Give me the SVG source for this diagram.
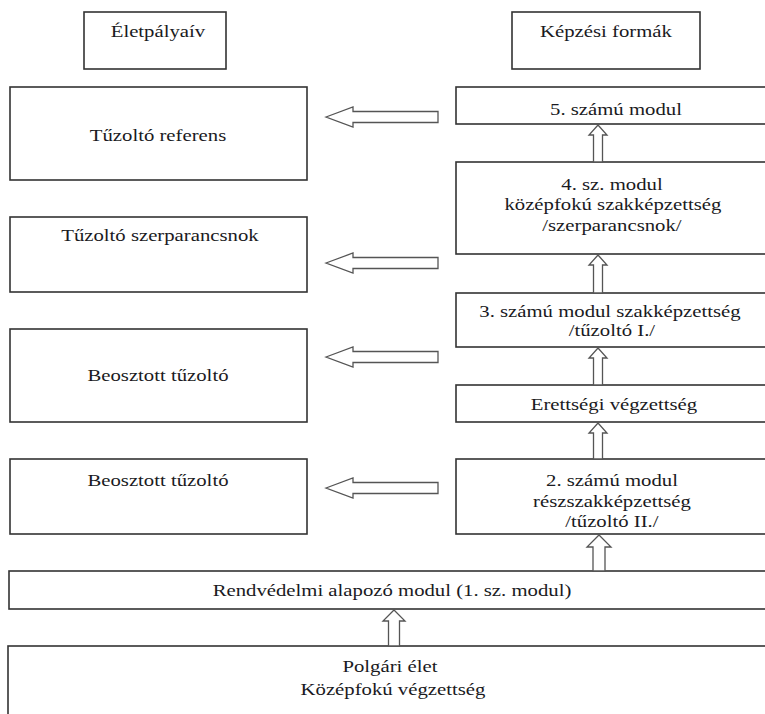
<svg xmlns="http://www.w3.org/2000/svg" width="765" height="714" viewBox="0 0 765 714">
<style>
.box{fill:#fff;stroke:#333;stroke-width:1.6}
.arr{fill:#fff;stroke:#555;stroke-width:1.3;stroke-linejoin:miter}
text{font-family:"Liberation Serif","Times New Roman",serif;font-size:17px;fill:#1a1a22;text-anchor:middle;transform-box:fill-box;transform-origin:center;transform:scaleX(1.22)}
</style>
<rect width="765" height="714" fill="#fff"/>
<g id="n-eletpalyaiv"><rect class="box" x="84" y="12" width="142" height="57"/><text x="158" y="37">Életpályaív</text></g>
<g id="n-kepzesi"><rect class="box" x="512" y="12" width="188" height="57"/><text x="606" y="37">Képzési formák</text></g>
<g id="n-referens"><rect class="box" x="10" y="87" width="297" height="93"/><text x="158" y="141">Tűzoltó referens</text></g>
<g id="n-szerparancsnok"><rect class="box" x="10" y="217" width="297" height="75"/><text x="160" y="241">Tűzoltó szerparancsnok</text></g>
<g id="n-beosztott1"><rect class="box" x="10" y="329" width="297" height="93"/><text x="158" y="381">Beosztott tűzoltó</text></g>
<g id="n-beosztott2"><rect class="box" x="10" y="459" width="297" height="75"/><text x="158" y="486">Beosztott tűzoltó</text></g>
<g id="n-modul5"><rect class="box" x="456" y="87" width="320" height="37"/><text x="616" y="115">5. számú modul</text></g>
<g id="n-modul4"><rect class="box" x="456" y="162" width="320" height="92"/><text x="612" y="190">4. sz. modul</text><text x="613" y="210">középfokú szakképzettség</text><text x="612" y="231">/szerparancsnok/</text></g>
<g id="n-modul3"><rect class="box" x="456" y="293" width="320" height="54"/><text x="610" y="317">3. számú modul szakképzettség</text><text x="612" y="336">/tűzoltó  I./</text></g>
<g id="n-erettsegi"><rect class="box" x="456" y="385" width="320" height="37"/><text x="614" y="410">Erettségi  végzettség</text></g>
<g id="n-modul2"><rect class="box" x="456" y="459" width="320" height="75"/><text x="612" y="486">2. számú modul</text><text x="612" y="507">részszakképzettség</text><text x="612" y="527">/tűzoltó  II./</text></g>
<g id="n-rendvedelmi"><rect class="box" x="9" y="571" width="770" height="38"/><text x="392" y="596">Rendvédelmi alapozó modul (1. sz. modul)</text></g>
<g id="n-polgari"><rect class="box" x="8" y="646" width="770" height="80"/><text x="390" y="672">Polgári  élet</text><text x="393" y="695">Középfokú végzettség</text></g>
<g id="connectors">
<polygon class="arr" points="326,117 353,107 353,111.5 438,111.5 438,122.5 353,122.5 353,127"/>
<polygon class="arr" points="326,263 353,253 353,257.5 438,257.5 438,268.5 353,268.5 353,273"/>
<polygon class="arr" points="326,357 353,347 353,351.5 438,351.5 438,362.5 353,362.5 353,367"/>
<polygon class="arr" points="326,488 353,478 353,482.5 438,482.5 438,493.5 353,493.5 353,498"/>
<polygon class="arr" points="598,125 607,135 602.5,135 602.5,162 593.5,162 593.5,135 589,135"/>
<polygon class="arr" points="598,255 607,265 602.5,265 602.5,293 593.5,293 593.5,265 589,265"/>
<polygon class="arr" points="598,348 607,358 602.5,358 602.5,385 593.5,385 593.5,358 589,358"/>
<polygon class="arr" points="598,423 607,433 602.5,433 602.5,459 593.5,459 593.5,433 589,433"/>
<polygon class="arr" points="599,535 611,547 605,547 605,571 593,571 593,547 587,547"/>
<polygon class="arr" points="394,610 405,621 399.5,621 399.5,646 388.5,646 388.5,621 383,621"/>
</g>
</svg>
